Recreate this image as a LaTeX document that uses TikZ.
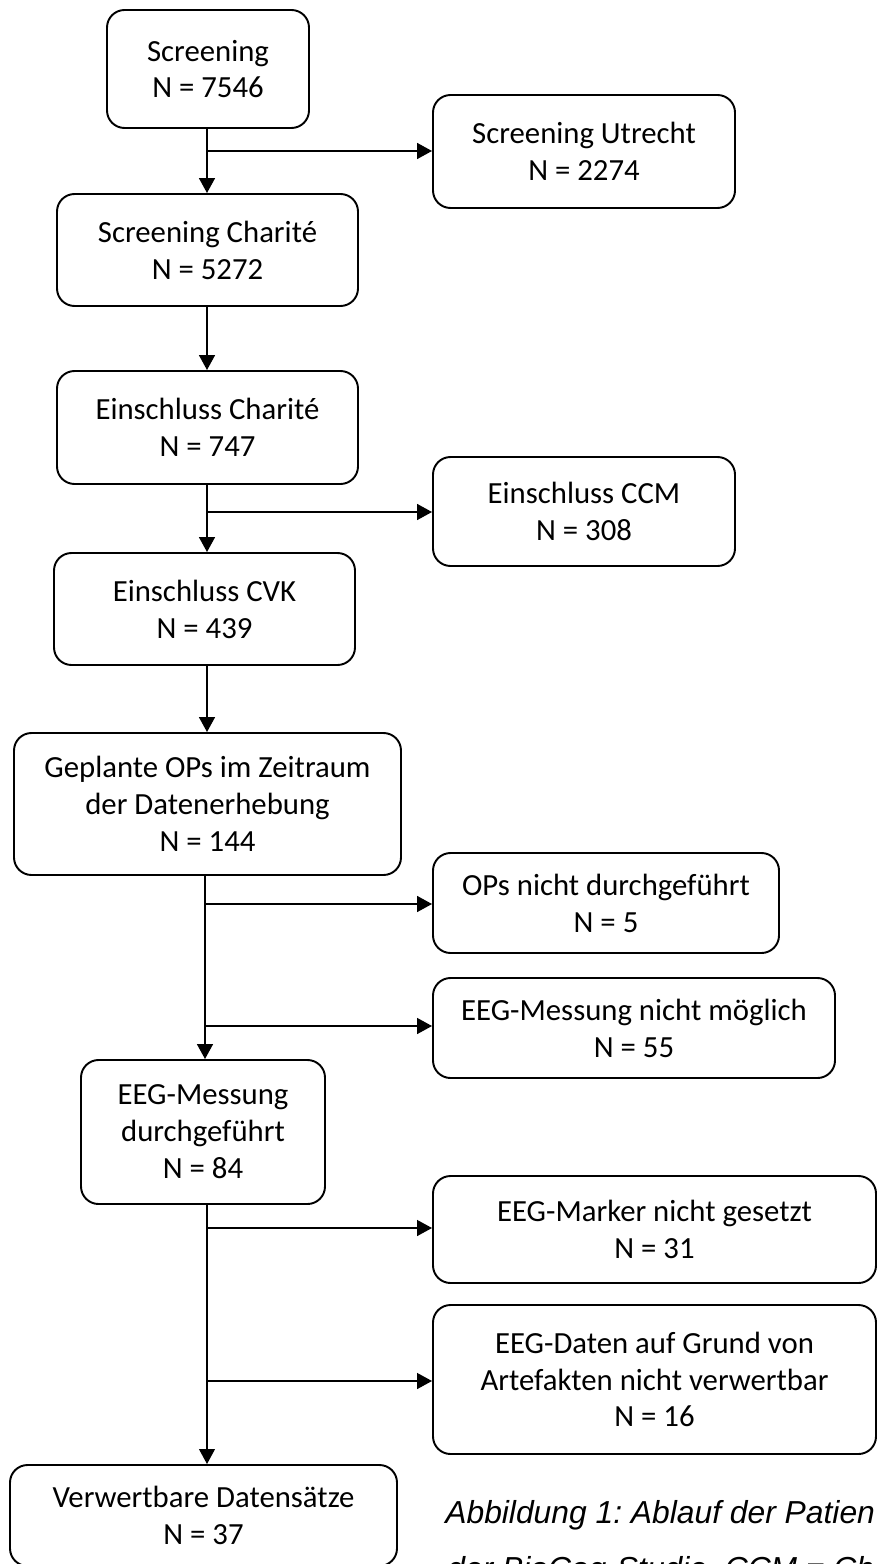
\documentclass[tikz,border=0pt]{standalone}
\usepackage{fontspec}
\setmainfont{Carlito}
\newfontfamily\arialf{Liberation Sans}
\usetikzlibrary{arrows.meta}
\frenchspacing
\tikzset{
  box/.style={draw, rounded corners=10pt, line width=1.1pt, align=center, inner sep=0pt,
    font=\fontsize{17.5}{21}\selectfont},
  arr/.style={line width=1.1pt, -{Triangle[length=8.5pt,width=9pt]}},
  arrthin/.style={line width=0.7pt, -{Triangle[length=8.5pt,width=9pt]}},
  arrmid/.style={line width=1pt, -{Triangle[length=8.5pt,width=9pt]}},
  capt/.style={anchor=base west, inner sep=0pt, font=\arialf\itshape\fontsize{18.1}{27}\selectfont}
}
\newcommand{\boxnode}[6]{%
  \pgfmathsetmacro\bw{(#4-#2)*0.02}%
  \pgfmathsetmacro\bh{(#5-#3)*0.02}%
  \node[box, minimum width=\bw cm, minimum height=\bh cm] (#1) at ({(#2+#4)/2},{(#3+#5)/2}) {#6};}
\begin{document}
\begin{tikzpicture}[x=0.02cm, y=-0.02cm]
\useasboundingbox (0,0) rectangle (877,1564);
\clip (0,0) rectangle (877,1564);
\fill[white] (0,0) rectangle (877,1564);

\boxnode{scr}{107}{10}{309}{128}{Screening\\N = 7546}
\boxnode{utr}{433}{95}{735}{208}{Screening Utrecht\\N = 2274}
\boxnode{scrch}{57}{194}{358}{306}{Screening Charité\\N = 5272}
\boxnode{ech}{57}{371}{358}{484}{Einschluss Charité\\N = 747}
\boxnode{ccm}{433}{457}{735}{566}{Einschluss CCM\\N = 308}
\boxnode{cvk}{54}{553}{355}{665}{Einschluss CVK\\N = 439}
\boxnode{gep}{14}{733}{401}{875}{Geplante OPs im Zeitraum\\der Datenerhebung\\N = 144}
\boxnode{opn}{433}{853}{779}{953}{OPs nicht durchgeführt\\N = 5}
\boxnode{eegn}{433}{978}{835}{1078}{EEG-Messung nicht möglich\\N = 55}
\boxnode{eegd}{81}{1060}{325}{1204}{EEG-Messung\\durchgeführt\\N = 84}
\boxnode{mark}{433}{1176}{876}{1283}{EEG-Marker nicht gesetzt\\N = 31}
\boxnode{art}{433}{1305}{876}{1454}{EEG-Daten auf Grund von\\Artefakten nicht verwertbar\\N = 16}
\boxnode{ver}{10}{1465}{397}{1566}{Verwertbare Datensätze\\N = 37}

% connectors
\coordinate (s1) at (207,128);
\coordinate (b1) at (207,151);
\draw[arr] (s1) -- (s1 |- scrch.north);
\draw[arr] (b1) -- (b1 -| utr.west);

\coordinate (s2) at (207,306);
\draw[arr] (s2) -- (s2 |- ech.north);

\coordinate (s3) at (207,484);
\coordinate (b3) at (207,512);
\draw[arr] (s3) -- (s3 |- cvk.north);
\draw[arr] (b3) -- (b3 -| ccm.west);

\coordinate (s4) at (207,665);
\draw[arr] (s4) -- (s4 |- gep.north);

\coordinate (s5) at (205,875);
\coordinate (b5a) at (205,904);
\coordinate (b5b) at (205,1026);
\draw[arr] (s5) -- (s5 |- eegd.north);
\draw[arr] (b5a) -- (b5a -| opn.west);
\draw[arr] (b5b) -- (b5b -| eegn.west);

\coordinate (s6) at (207,1204);
\coordinate (b6a) at (207,1228);
\coordinate (b6b) at (207,1381);
\draw[arrthin] (s6) -- (s6 |- ver.north);
\draw[arrmid] (b6a) -- (b6a -| mark.west);
\draw[arrmid] (b6b) -- (b6b -| art.west);

% caption
\node[capt] (cap1) at (445,1523) {Abbildung 1: Ablauf der Patien};
\node[capt] (cap2) at (447,1579) {der BioCog-Studie, CCM = Ch};
\end{tikzpicture}
\end{document}
